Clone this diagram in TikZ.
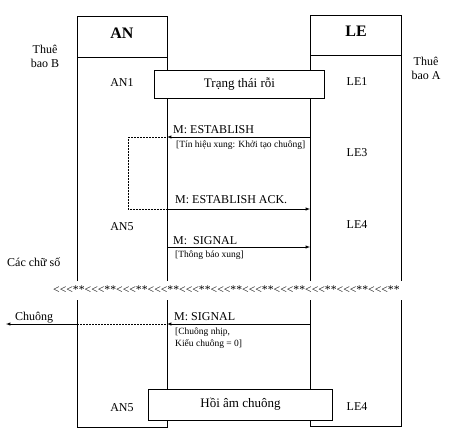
\documentclass[tikz,border=0pt]{standalone}
\usepackage{fontspec}
\setmainfont{Liberation Serif}
\newfontfamily\rowfont{Liberation Serif}[Ligatures=TeXOff]
\usetikzlibrary{arrows}
\newcommand{\digitgrp}{<\kern0pt<\kern0pt<\kern0pt**}

\begin{document}
\begin{tikzpicture}[x=1pt,y=-1pt,>=latex,
  lifeline/.style={line width=0.7pt},
  msg/.style={->,line width=0.5pt},
  loopline/.style={densely dotted,line width=0.5pt},
  statebox/.style={draw,fill=white,line width=0.7pt,inner sep=0pt,font=\fontsize{13}{15}\selectfont},
  lbl/.style={font=\fontsize{12}{14}\selectfont,inner sep=0pt},
  msglbl/.style={font=\fontsize{12}{14}\selectfont,anchor=base west,inner sep=0pt},
  sml/.style={font=\fontsize{9.5}{12}\selectfont,anchor=base west,inner sep=0pt,align=left}]
\useasboundingbox (0,0) rectangle (449,439);
% entities
\draw [lifeline] (77,281) -- (77,16) -- (167,16) -- (167,281);
\draw [lifeline] (77,300) -- (77,427) -- (167,427) -- (167,300);
\draw [lifeline] (77,57) -- (167,57);
\draw [lifeline] (310,281) -- (310,15) -- (401,15) -- (401,281);
\draw [lifeline] (310,300) -- (310,426) -- (401,426) -- (401,300);
\draw [lifeline] (310,55) -- (401,55);
\node [font=\fontsize{16}{18}\selectfont\bfseries] (an) at (122,33) {AN};
\node [font=\fontsize{16}{18}\selectfont\bfseries] (le) at (356,31) {LE};
\node [lbl,align=center] (tbB) at (45,56) {Thuê\\bao B};
\node [lbl,align=center] (tbA) at (426,68) {Thuê\\bao A};
% states
\node [lbl] (an1) at (122,83) {AN1};
\node [lbl] (le1) at (357,82) {LE1};
\node [lbl] (le3) at (357,153) {LE3};
\node [lbl] (an5) at (122,227) {AN5};
\node [lbl] (le4) at (357,225) {LE4};
\node [lbl] (an5b) at (122,408) {AN5};
\node [lbl] (le4b) at (357,407) {LE4};
\node [statebox,minimum width=170pt,minimum height=28pt] (idle) at (239.5,84) {Trạng thái rỗi};
\node [statebox,minimum width=184pt,minimum height=31pt] (ringback) at (240.5,404.5) {Hồi âm chuông};
% messages
\coordinate (anA) at (167,137);
\coordinate (leA) at (310,137);
\coordinate (loopA) at (128,137);
\coordinate (loopB) at (128,209);
\coordinate (anB) at (167,209);
\coordinate (leB) at (310,209);
\coordinate (anC) at (167,247);
\coordinate (leC) at (310,247);
\coordinate (anD) at (167,324);
\coordinate (leD) at (310,324);
\coordinate (anD0) at (77,324);
\coordinate (bell) at (6,324);
\draw [msg] (leA) -- (anA);
\draw [loopline] (anA) -- (loopA) -- (loopB) -- (anB);
\draw [msg] (anB) -- (leB);
\draw [msg] (anC) -- (leC);
\draw [msg] (leD) -- (anD);
\draw [loopline] (anD) -- (anD0);
\draw [msg] (anD0) -- (bell);
\node [msglbl] (mest) at (173,133) {M: ESTABLISH};
\node [sml] (tinh) at (176,147) {[Tín hiệu xung: Khởi tạo chuông]};
\node [msglbl] (mack) at (175,203) {M: ESTABLISH ACK.};
\node [msglbl] (msig) at (173,244) {M:\ \ SIGNAL};
\node [sml] (tbx) at (175,257) {[Thông báo xung]};
\node [lbl,anchor=base west] (digits) at (7,266) {Các chữ số};
\node [msglbl,font=\rowfont\fontsize{11.7}{14}\selectfont] (ndash) at (53,293) {\digitgrp\digitgrp\digitgrp\digitgrp\digitgrp\digitgrp\digitgrp\digitgrp\digitgrp\digitgrp\digitgrp};
\node [msglbl] (chuong) at (15,320) {Chuông};
\node [msglbl] (msig2) at (174,320) {M: SIGNAL};
\node [sml] (nhip) at (175,346) {[Chuông nhịp,\\Kiểu chuông = 0]};
\end{tikzpicture}
\end{document}
